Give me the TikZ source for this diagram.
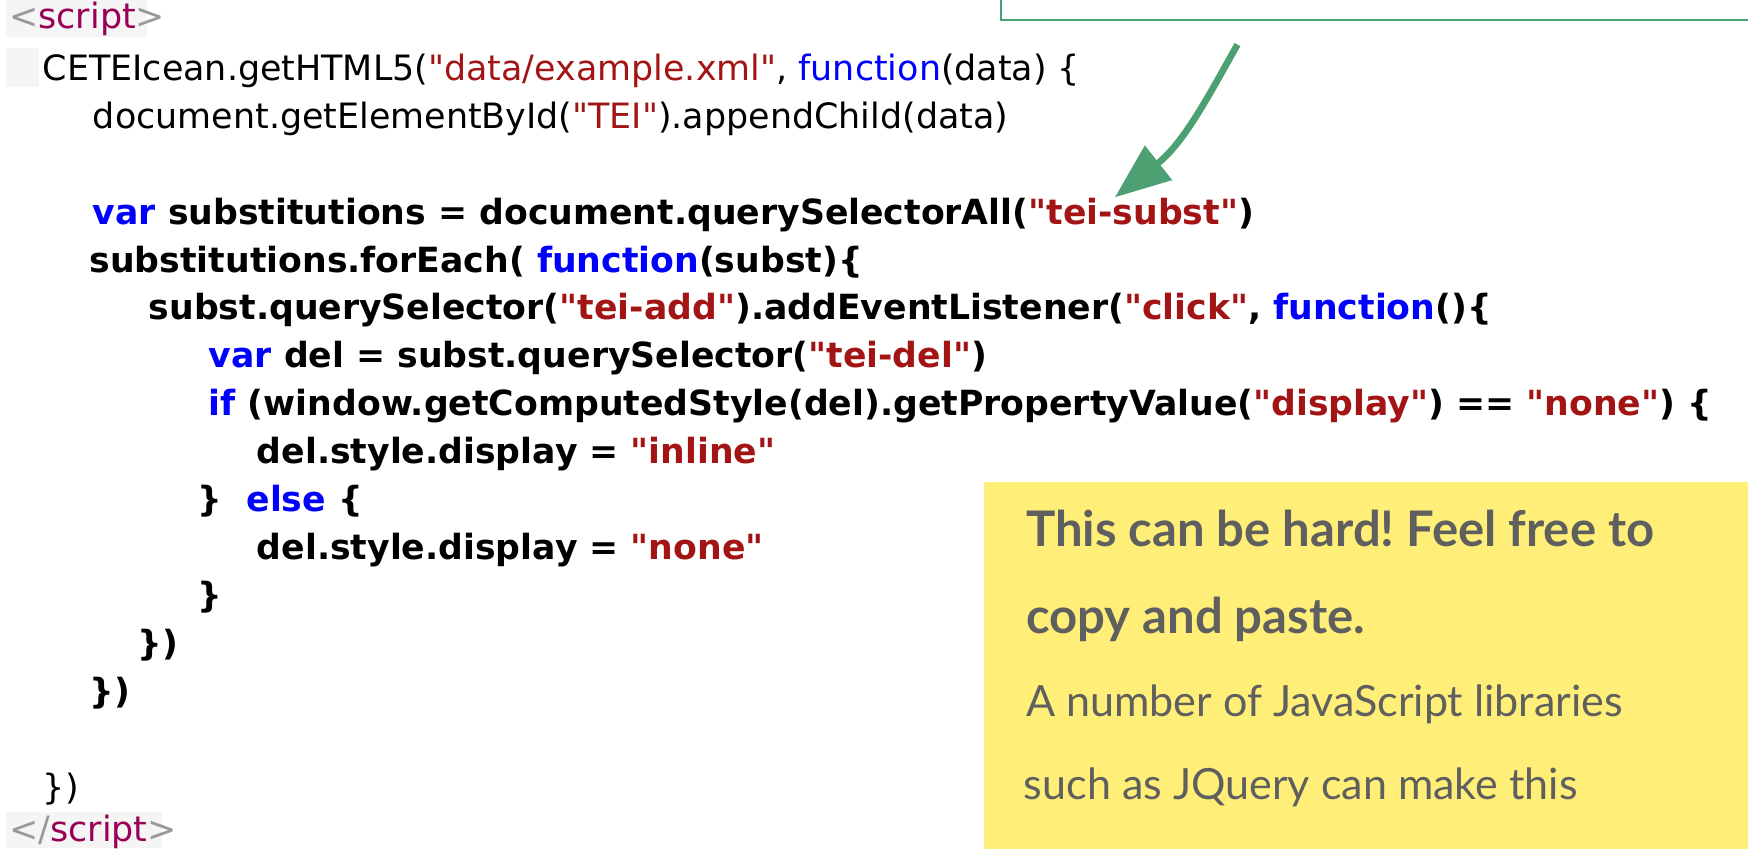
\documentclass[tikz,border=0pt]{standalone}
\usepackage{fontspec}
\usetikzlibrary{arrows.meta}
\newfontfamily\codefont{DejaVu Sans}
\newfontfamily\notefont{Lato}
\definecolor{kwblue}{RGB}{0,0,255}
\definecolor{strred}{RGB}{163,21,21}
\definecolor{tagpurple}{RGB}{153,0,85}
\definecolor{taggrey}{RGB}{153,153,153}
\definecolor{tagbg}{RGB}{245,245,245}
\definecolor{calloutgreen}{RGB}{76,160,114}
\definecolor{notefill}{RGB}{255,239,120}
\definecolor{notegrey}{RGB}{95,95,95}
\newcommand{\jskw}[1]{\textcolor{kwblue}{#1}}
\newcommand{\jsstr}[1]{\textcolor{strred}{"#1"}}
\frenchspacing

\begin{document}
\begin{tikzpicture}[x=0.5pt,y=-0.5pt,
    every node/.style={inner sep=0pt, anchor=base west},
    code/.style={font=\codefont\fontsize{15.65}{20}\selectfont},
    codeb/.style={font=\codefont\bfseries\fontsize{15.55}{20}\selectfont},
    note/.style={font=\notefont\fontsize{19.3}{24}\selectfont, text=notegrey},
    noteb/.style={note, font=\notefont\bfseries\fontsize{22}{26}\selectfont}]
    \useasboundingbox (0,0) rectangle (1568,761);
    % grey backgrounds of the tag lines
    \fill[tagbg] (5,0) rectangle (132,33);
    \fill[tagbg] (5,43) rectangle (35,78);
    \fill[tagbg] (5,728) rectangle (145,761);
    % code
    \node[code] (open) at (8,26) {\textcolor{taggrey}{<}\textcolor{tagpurple}{script}\textcolor{taggrey}{>}};
    \node[code] (l2) at (38,72) {CETEIcean.getHTML5(\jsstr{data/example.xml}, \jskw{function}(data) \{};
    \node[code] (l3) at (83,115) {document.getElementById(\jsstr{TEI}).appendChild(data)};
    \node[codeb] (l5) at (83,201) {\jskw{var} substitutions = document.querySelectorAll(\jsstr{tei-subst})};
    \node[codeb] (l6) at (80,244) {substitutions.forEach( \jskw{function}(subst)\{};
    \node[codeb] (l7) at (133,287) {subst.querySelector(\jsstr{tei-add}).addEventListener(\jsstr{click}, \jskw{function}()\{};
    \node[codeb] (l8) at (187,330) {\jskw{var} del = subst.querySelector(\jsstr{tei-del})};
    \node[codeb] (l9) at (187,373) {\jskw{if} (window.getComputedStyle(del).getPropertyValue(\jsstr{display}) == \jsstr{none}) \{};
    \node[codeb] (l10) at (230,416) {del.style.display = \jsstr{inline}};
    \node[codeb] (l11) at (177,459) {\}~ \jskw{else} \{};
    \node[codeb] (l12) at (230,502) {del.style.display = \jsstr{none}};
    \node[codeb] (l13) at (177,545) {\}};
    \node[codeb] (l14) at (123,588) {\})};
    \node[codeb] (l15) at (80,631) {\})};
    \node[code] (l17) at (38,717) {\})};
    \node[code] (close) at (8,755) {\textcolor{taggrey}{</}\textcolor{tagpurple}{script}\textcolor{taggrey}{>}};
    % callout box and arrow
    \draw[calloutgreen, line width=1pt] (898,-20) rectangle (1600,18);
    \coordinate (arrowfrom) at (1110,40);
    \coordinate (arrowto) at (1000,177);
    \draw[calloutgreen, line width=3pt, -{Triangle[length=25pt,width=19pt]}] (arrowfrom) .. controls (1083,88) and (1062,128) .. (arrowto);
    % yellow note
    \fill[notefill] (883,432) rectangle (1600,800);
    \node[noteb] (hard) at (920,490) {This can be hard! Feel free to};
    \node[noteb] (paste) at (920,568) {copy and paste.};
    \node[note] (libs) at (920,643) {A number of JavaScript libraries};
    \node[note] (jquery) at (918,717) {such as JQuery can make this};
\end{tikzpicture}
\end{document}
